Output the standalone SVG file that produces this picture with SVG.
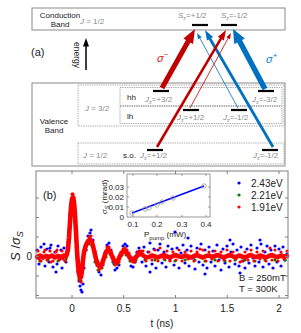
<svg xmlns="http://www.w3.org/2000/svg" width="301" height="333" viewBox="0 0 301 333">
<style>
text{font-family:"Liberation Sans",Arial,sans-serif;}
.lbl{font-size:8px;fill:#222;}
.gray{font-size:8px;fill:#8a8a8a;}
.it{font-style:italic;}
.box{fill:none;stroke:#8a8a8a;stroke-width:1;}
.dash{fill:none;stroke:#999;stroke-width:0.8;stroke-dasharray:1.4 0.9;}
.bar{stroke:#000;stroke-width:2.2;}
.red{fill:#c00000;}
.blue{fill:#0070c0;}
.tick{font-size:10px;fill:#222;}
.itk{font-size:8px;fill:#222;}
.ax{fill:none;stroke:#808080;stroke-width:1;}
.dots{fill:none;stroke-linecap:round;stroke-width:3.2;}
</style>

<!-- (a) -->
<g id="conduction-band">
<rect class="box" x="32" y="8" width="253" height="22"/>
<text class="lbl" x="60" y="18" text-anchor="middle">Conduction</text>
<text class="lbl" x="60" y="27" text-anchor="middle">Band</text>
<text class="gray" x="80" y="24"><tspan class="it">J</tspan> = 1/2</text>
</g>
<g id="cb-up">
<line class="bar" x1="192" y1="25" x2="208" y2="25"/>
<text class="gray" x="178" y="18"><tspan class="it">S</tspan><tspan font-size="5.5" dy="2">z</tspan><tspan dy="-2">=+1/2</tspan></text>
</g>
<g id="cb-down">
<line class="bar" x1="221" y1="25" x2="237" y2="25"/>
<text class="gray" x="221" y="18"><tspan class="it">S</tspan><tspan font-size="5.5" dy="2">z</tspan><tspan dy="-2">=-1/2</tspan></text>
</g>

<text x="31" y="56" font-size="11" fill="#222">(a)</text>
<g id="energy-axis">
<line x1="86" y1="70" x2="86" y2="45" stroke="#000" stroke-width="1.5"/>
<polygon points="86,38 83,46.5 89,46.5" fill="#000"/>
<text x="0" y="0" font-size="8.5" fill="#222" text-anchor="middle" transform="translate(74,55) rotate(90)">energy</text>
</g>

<g id="valence-band">
<rect class="box" x="32" y="83" width="253" height="83"/>
<text class="lbl" x="54" y="124" text-anchor="middle">Valence</text>
<text class="lbl" x="54" y="133" text-anchor="middle">Band</text>
<rect class="dash" x="78" y="85" width="206" height="41"/>
<text class="gray" x="85" y="111"><tspan class="it">J</tspan> = 3/2</text>
<rect class="dash" x="120" y="87.5" width="162" height="18"/>
<rect class="dash" x="120" y="106.5" width="162" height="17"/>
<text class="lbl" x="127" y="100">hh</text>
<text class="lbl" x="127" y="119">lh</text>
<rect class="dash" x="78" y="143" width="206" height="21"/>
<text class="gray" x="83" y="158"><tspan class="it">J</tspan> = 1/2</text>
<text class="lbl" x="123" y="158">s.o.</text>
</g>
<g id="hh-p32">
<line class="bar" x1="153" y1="91" x2="169" y2="91"/>
<text class="gray" x="145" y="102"><tspan class="it">J</tspan><tspan font-size="5.5" dy="2">z</tspan><tspan dy="-2">=+3/2</tspan></text>
</g>
<g id="hh-m32">
<line class="bar" x1="258" y1="91" x2="274" y2="91"/>
<text class="gray" x="252" y="102"><tspan class="it">J</tspan><tspan font-size="5.5" dy="2">z</tspan><tspan dy="-2">=-3/2</tspan></text>
</g>
<g id="lh-p12">
<line class="bar" x1="183" y1="110" x2="199" y2="110"/>
<text class="gray" x="177" y="120"><tspan class="it">J</tspan><tspan font-size="5.5" dy="2">z</tspan><tspan dy="-2">=+1/2</tspan></text>
</g>
<g id="lh-m12">
<line class="bar" x1="231" y1="110" x2="247" y2="110"/>
<text class="gray" x="223" y="120"><tspan class="it">J</tspan><tspan font-size="5.5" dy="2">z</tspan><tspan dy="-2">=-1/2</tspan></text>
</g>
<g id="so-p12">
<line class="bar" x1="147" y1="150" x2="163" y2="150"/>
<text class="gray" x="140" y="158"><tspan class="it">J</tspan><tspan font-size="5.5" dy="2">z</tspan><tspan dy="-2">=+1/2</tspan></text>
</g>
<g id="so-m12">
<line class="bar" x1="262" y1="150" x2="278" y2="150"/>
<text class="gray" x="253" y="158"><tspan class="it">J</tspan><tspan font-size="5.5" dy="2">z</tspan><tspan dy="-2">=-1/2</tspan></text>
</g>

<g id="connectors">
<!-- blue -->
<polygon class="blue" points="267.4,87.7 242.0,40.1 244.9,38.5 233,29 234.3,44.2 237.2,42.6 262.6,90.3"/>
<polygon class="blue" points="274.2,146.3 211.2,38.0 213.1,36.9 205,30 207.0,40.4 208.8,39.4 271.8,147.7"/>
<line x1="238" y1="108" x2="199.9" y2="38.3" stroke="#0070c0" stroke-width="0.8"/>
<polygon class="blue" points="197,33 201.6,37.3 198.1,39.2"/>
<!-- red -->
<polygon class="red" points="164.2,89.2 190.4,42.4 193.0,43.9 195,29 183.4,38.5 186.0,40.0 159.8,86.8"/>
<polygon class="red" points="158.1,147.7 222.0,39.3 223.9,40.4 226,30 217.9,36.8 219.8,38.0 155.9,146.3"/>
<line x1="190" y1="108" x2="228.1" y2="38.3" stroke="#c00000" stroke-width="0.8"/>
<polygon class="red" points="231,33 229.9,39.2 226.4,37.3"/>
</g>
<text x="157" y="62" font-size="11" fill="#e02020" font-style="italic">σ<tspan font-size="8" dy="-5" font-style="normal">−</tspan></text>
<text x="266" y="63" font-size="11" fill="#1080d0" font-style="italic">σ<tspan font-size="8" dy="-5" font-style="normal">+</tspan></text>

<!-- (b) plot -->
<g id="plot">
<path class="dots" stroke="#0000ff" d="M37,250h0.01M39,264h0.01M41,247h0.01M43,258h0.01M45,266h0.01M47,249h0.01M49,262h0.01M51,245h0.01M53,267h0.01M55,252h0.01M57,264h0.01M58,246h0.01M60,259h0.01M62,268h0.01M64,248h0.01M66,262h0.01M56,272h0.01M50,248h0.01M44,244h0.01M61,250h0.01
M67,252h0.01M68,242h0.01M69,230h0.01M70,214h0.01M71,204h0.01M72,199h0.01M73,200h0.01M74,208h0.01M75,222h0.01M76,240h0.01M77,258h0.01M78,272h0.01M79,281h0.01M80,286h0.01M81,290h0.01M82,292h0.01M83,284h0.01M84,268h0.01M86,250h0.01M88,236h0.01M90,233h0.01M91,230h0.01M93,240h0.01M95,252h0.01M97,265h0.01M99,272h0.01M101,275h0.01M103,265h0.01M105,253h0.01M107,245h0.01M109,243h0.01M111,250h0.01M113,262h0.01M115,270h0.01M117,268h0.01M119,265h0.01M121,255h0.01M123,246h0.01M125,244h0.01M127,246h0.01M129,258h0.01M131,266h0.01M133,267h0.01M135,262h0.01M137,252h0.01M139,248h0.01
M142,262h0.01M144,247h0.01M146,266h0.01M148,252h0.01M150,243h0.01M152,264h0.01M154,249h0.01M156,268h0.01M158,250h0.01M160,244h0.01M162,263h0.01M164,252h0.01M166,267h0.01M168,246h0.01M170,260h0.01M172,249h0.01M174,265h0.01M175,232h0.01M177,248h0.01M179,268h0.01M181,253h0.01M183,245h0.01M185,263h0.01M187,250h0.01M189,266h0.01M191,246h0.01M193,258h0.01M195,269h0.01M197,248h0.01M199,262h0.01M201,244h0.01M203,265h0.01M205,250h0.01M207,268h0.01M209,247h0.01M211,262h0.01M213,251h0.01M215,266h0.01M217,245h0.01M219,260h0.01M221,270h0.01M223,249h0.01M225,263h0.01M227,246h0.01M229,267h0.01M231,252h0.01M233,244h0.01M235,264h0.01M237,250h0.01M239,266h0.01M241,247h0.01M243,261h0.01M245,268h0.01M247,249h0.01M249,263h0.01M251,245h0.01M253,258h0.01M255,266h0.01M257,248h0.01M259,262h0.01M261,244h0.01M263,267h0.01M265,252h0.01M267,246h0.01M269,264h0.01M271,250h0.01M273,268h0.01M275,246h0.01M277,262h0.01M279,249h0.01M281,266h0.01M283,247h0.01M285,260h0.01M287,254h0.01M188,238h0.01M230,240h0.01M260,240h0.01M150,272h0.01M205,274h0.01M240,273h0.01"/>
<path class="dots" stroke="#008000" d="M40,261h0.01M48,260h0.01M58,261h0.01M66,259h0.01M69,242h0.01M70,227h0.01M71,212h0.01M72,204h0.01M74,207h0.01M75,221h0.01M76,238h0.01M77,257h0.01M78,271h0.01M79,279h0.01M81,281h0.01M83,265h0.01M86,250h0.01M89,244h0.01M92,246h0.01M95,262h0.01M98,270h0.01M102,268h0.01M106,257h0.01M110,254h0.01M114,264h0.01M118,264h0.01M122,255h0.01M126,255h0.01M130,261h0.01M136,260h0.01M145,260h0.01M155,260h0.01M165,260h0.01M175,261h0.01M185,260h0.01M195,260h0.01M205,261h0.01M215,260h0.01M225,261h0.01M235,260h0.01M245,260h0.01M255,261h0.01M265,260h0.01M275,260h0.01M285,260h0.01"/>
<path fill="none" stroke="#ff0000" stroke-width="4.6" stroke-linejoin="round" stroke-linecap="round" d="M37,257L40,255.5 43,257.5 46,256 49,257 52,255.5 55,257.5 58,256 61,257 64,255.5 66,256.5 67,254 68,249 69,238 70,222 71,207 72,199 73,197 74,202 75,215 76,232 77,251 78,265 79,274 80,278 81,277 82,270 83,260 84,252 86,245 88,241 90,239.5 92,242 94,250 96,259 98,265 100,267 102,264 104,258 106,252 108,249.5 110,251 112,256 114,260.5 116,262.5 118,260.5 120,256 122,252.5 124,251 126,252 128,254.5 130,257.5 132,259.5 134,259 136,257 138,255 140,254 142,254.5 144,256 146,257.5 149,257 152,255.5 155,256.5 158,257.5 161,256 164,255 167,256.5 170,257.5 173,256 176,255 179,256.5 182,257 185,255.5 188,256.5 191,257.5 194,256 197,255 200,256.5 203,257.5 206,256 209,255.5 212,257 215,256 218,255 221,256.5 224,257.5 227,256 230,255 233,256.5 236,257 239,255.5 242,256.5 245,257.5 248,256 251,255 254,256.5 257,257 260,255.5 263,256.5 266,257.5 269,256 272,255 275,256.5 278,257 281,255.5 284,256.5 287,256"/>
<path class="dots" stroke="#ff0000" d="M38,251h0.01M41,261h0.01M44,252h0.01M47,260h0.01M50,251h0.01M53,261h0.01M56,252h0.01M59,260h0.01M62,251h0.01M65,261h0.01M39,259h0.01M45,250h0.01M51,262h0.01M57,250h0.01M63,259h0.01
M68,245h0.01M69,232h0.01M70,216h0.01M71,203h0.01M72,194h0.01M73,194h0.01M74,198h0.01M75,210h0.01M76,226h0.01M77,245h0.01M78,260h0.01M79,270h0.01M80,281h0.01M81,282h0.01M82,274h0.01M83,264h0.01M85,250h0.01M87,243h0.01M89,237h0.01M91,236h0.01M93,245h0.01M95,256h0.01M97,262h0.01M99,270h0.01M101,268h0.01M103,262h0.01M105,255h0.01M107,247h0.01M109,247h0.01M111,252h0.01M113,257h0.01M115,265h0.01M117,264h0.01M119,262h0.01M121,252h0.01M123,249h0.01M125,248h0.01M127,250h0.01M129,253h0.01M131,261h0.01M133,262h0.01M135,262h0.01M137,253h0.01M139,251h0.01M141,251h0.01
M143,251h0.01M146,261h0.01M149,252h0.01M152,260h0.01M155,250h0.01M158,261h0.01M160,248h0.01M164,259h0.01M167,251h0.01M170,261h0.01M173,252h0.01M176,260h0.01M179,250h0.01M182,261h0.01M185,252h0.01M188,259h0.01M191,251h0.01M194,261h0.01M197,252h0.01M200,249h0.01M203,250h0.01M206,261h0.01M209,252h0.01M212,259h0.01M215,251h0.01M218,261h0.01M221,252h0.01M224,260h0.01M227,250h0.01M230,261h0.01M233,252h0.01M236,259h0.01M240,262h0.01M242,261h0.01M245,252h0.01M248,260h0.01M251,250h0.01M254,261h0.01M257,252h0.01M260,259h0.01M263,251h0.01M266,261h0.01M270,248h0.01M272,260h0.01M275,250h0.01M278,261h0.01M281,252h0.01M284,259h0.01M287,251h0.01"/>

<rect class="ax" x="36" y="171" width="252" height="127"/>
<path class="ax" d="M72,298v-3M123.75,298v-3M175.5,298v-3M227.25,298v-3M279,298v-3M72,171v3M123.75,171v3M175.5,171v3M227.25,171v3M279,171v3M36,198h3M36,217.5h3M36,237h3M36,256.5h3M36,276h3M36,295.5h3M288,198h-3M288,217.5h-3M288,237h-3M288,256.5h-3M288,276h-3M288,295.5h-3"/>
<g class="tick" text-anchor="middle">
<text x="72" y="312">0</text>
<text x="123.75" y="312">0.5</text>
<text x="175.5" y="312">1</text>
<text x="227.25" y="312">1.5</text>
<text x="279" y="312">2</text>
</g>
<text class="tick" x="32" y="260" text-anchor="end">0</text>
<text class="tick" x="162" y="327" text-anchor="middle">t (ns)</text>
<text x="0" y="0" font-size="13" fill="#222" text-anchor="middle" transform="translate(20,246) rotate(-90)"><tspan font-style="italic">S</tspan> /<tspan font-style="italic">σ</tspan><tspan font-size="9" dy="3" font-style="italic">S</tspan></text>
<text x="43" y="199" font-size="11" fill="#222">(b)</text>

<!-- legend -->
<path class="dots" stroke="#0000ff" d="M239,183h0.01"/>
<path class="dots" stroke="#008000" d="M239,195h0.01"/>
<path class="dots" stroke="#ff0000" d="M239,207h0.01"/>
<text class="tick" x="251" y="187">2.43eV</text>
<text class="tick" x="251" y="199">2.21eV</text>
<text class="tick" x="251" y="211">1.91eV</text>
<text x="239" y="281" font-size="9.5" fill="#222">B = 250mT</text>
<text x="239" y="292" font-size="9.5" fill="#222">T = 300K</text>
</g>

<g id="inset">
<rect x="127" y="174" width="83" height="43" fill="#fff" stroke="#808080" stroke-width="0.8"/>
<path fill="none" stroke="#808080" stroke-width="0.8" d="M133,217v-2M157,217v-2M182,217v-2M206,217v-2M133,174v2M157,174v2M182,174v2M206,174v2M127,187h2M127,197h2M127,207h2M210,187h-2M210,197h-2M210,207h-2"/>
<line x1="132" y1="213" x2="204" y2="186" stroke="#0000ff" stroke-width="1.4"/>
<g fill="none" stroke="#999" stroke-width="0.8">
<circle cx="132" cy="213" r="2.2"/><circle cx="145" cy="209" r="2.2"/><circle cx="149" cy="208" r="2.2"/><circle cx="157" cy="205" r="2.2"/><circle cx="162" cy="202" r="2.2"/><circle cx="173" cy="198" r="2.2"/><circle cx="204" cy="186" r="2.2"/>
</g>
<g class="itk" text-anchor="end">
<text x="124" y="190">0.03</text>
<text x="124" y="200">0.02</text>
<text x="124" y="210">0.01</text>
<text x="124" y="220">0</text>
</g>
<g class="itk" text-anchor="middle">
<text x="133" y="227">0.1</text>
<text x="157" y="227">0.2</text>
<text x="182" y="227">0.3</text>
<text x="206" y="227">0.4</text>
</g>
<text class="itk" x="144" y="237">P<tspan font-size="6" dy="3">pump</tspan><tspan dy="-3"> (mW)</tspan></text>
<text class="itk" x="0" y="0" text-anchor="middle" transform="translate(107,197) rotate(-90)"><tspan font-style="italic">σ</tspan><tspan font-size="6" dy="2" font-style="italic">S</tspan><tspan dy="-2">  (mrad)</tspan></text>
</g>
</svg>
